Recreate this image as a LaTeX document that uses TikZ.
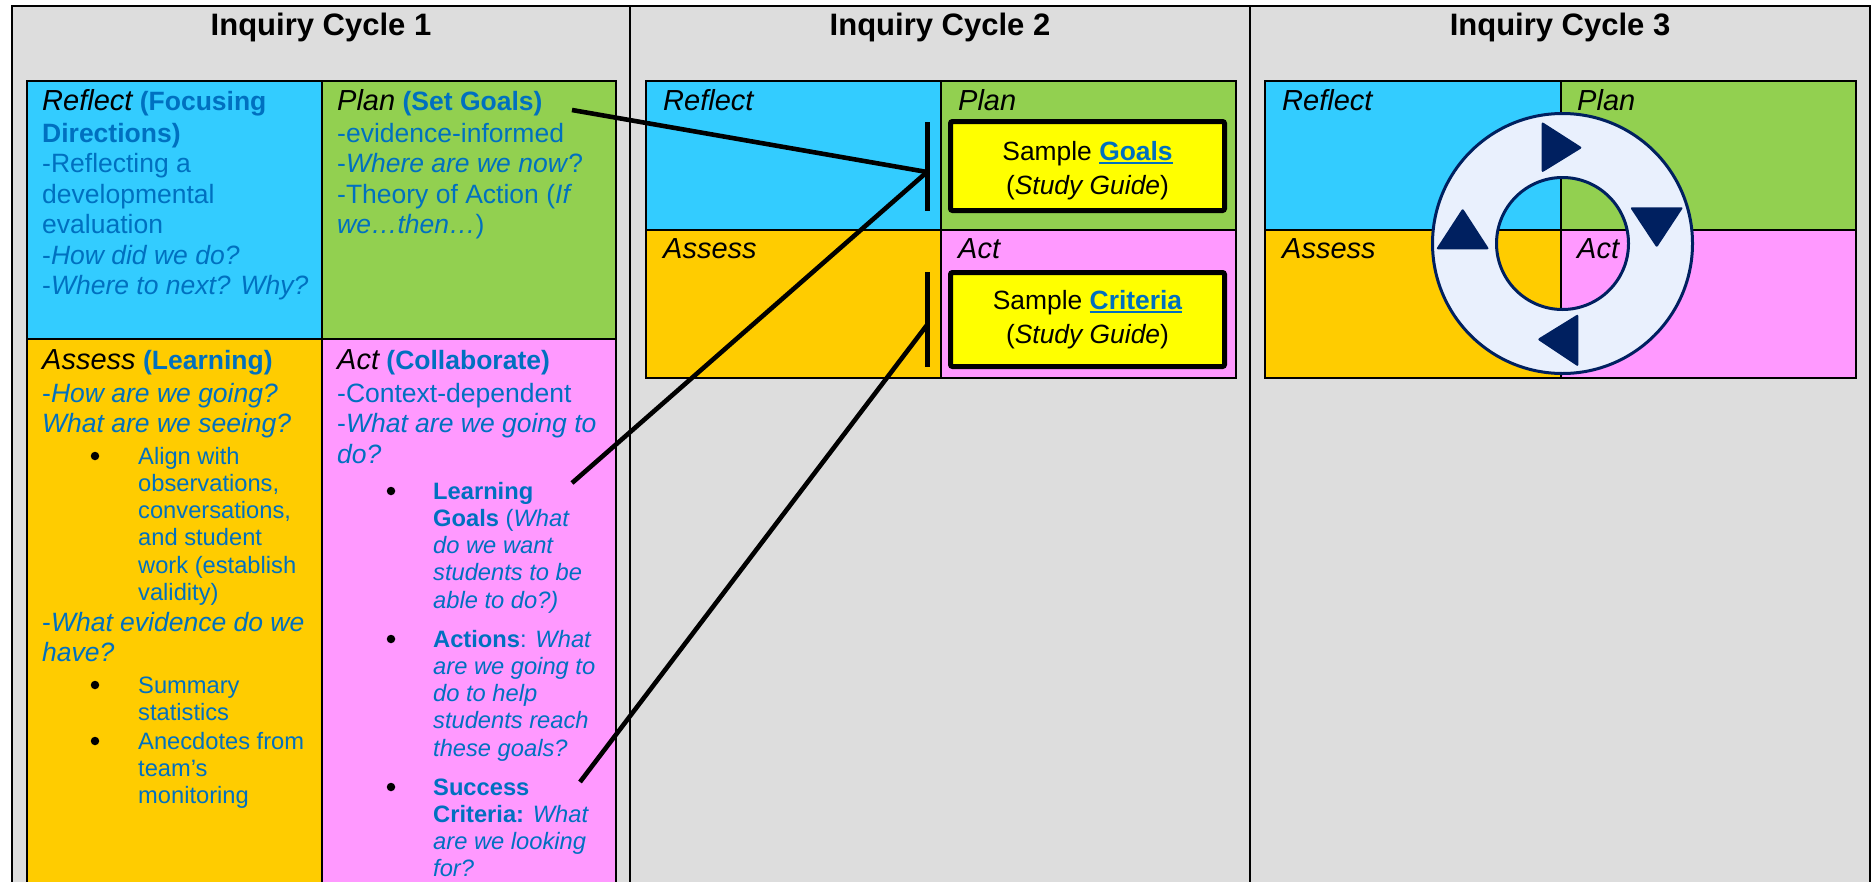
\documentclass[tikz,border=0pt]{standalone}
\usepackage{fontspec}
\setmainfont{Liberation Sans}
\definecolor{bgray}{RGB}{221,221,221}
\definecolor{rcyan}{RGB}{51,204,255}
\definecolor{pgreen}{RGB}{146,208,80}
\definecolor{aorange}{RGB}{255,204,0}
\definecolor{cpink}{RGB}{255,153,255}
\definecolor{tblue}{RGB}{0,112,192}
\definecolor{navy}{RGB}{0,32,96}
\definecolor{ringfill}{RGB}{233,240,253}
\definecolor{yfill}{RGB}{255,255,0}
\newcommand\hd[1]{{\fontsize{29}{30.5}\selectfont\itshape\color{black}#1}}
\newcommand\lnk[1]{\setbox0\hbox{\bfseries #1}\rlap{\color{tblue}\rule[-3.5pt]{\wd0}{2pt}}{\color{tblue}\bfseries #1}}
\tikzset{
 body/.style={anchor=base west, inner sep=0pt, text=tblue, font=\fontsize{26.5}{30.5}\selectfont},
 bull/.style={anchor=base west, inner sep=0pt, text=tblue, font=\fontsize{23.7}{27.3}\selectfont},
 dotb/.style={circle, fill=black, inner sep=0pt, minimum size=8.5pt},
 hdnode/.style={anchor=base west, inner sep=0pt, font=\fontsize{29}{30.5}\selectfont\itshape},
 title/.style={anchor=base, inner sep=0pt, font=\fontsize{31}{36}\selectfont\bfseries},
 grid/.style={draw=black, line width=2pt},
 conn/.style={line width=4.6pt, draw=black},
 barnode/.style={fill=black, inner sep=0pt, minimum width=5pt},
 yboxs/.style={draw=black, fill=yfill, line width=5pt, rounded corners=2pt, minimum width=274pt, inner sep=0pt},
 stxt/.style={anchor=base, inner sep=0pt, font=\fontsize{26.4}{34}\selectfont},
 tri/.style={fill=navy, rounded corners=2pt},
 ringline/.style={draw=navy, line width=3pt},
}
\begin{document}
\begin{tikzpicture}[x=1pt,y=-1pt]
\clip (0,0) rectangle (1871,881);
\fill[white] (0,0) rectangle (1871,881);
% outer table
\fill[bgray] (12,6) rectangle (1870,890);
\draw[line width=2pt] (12,890) -- (12,6) -- (1870,6) -- (1870,890);
\draw[line width=1.6pt] (630,6) -- (630,890);
\draw[line width=1.6pt] (1250,6) -- (1250,890);
% titles
\node[title] (t1) at (321,35) {Inquiry Cycle 1};
\node[title] (t2) at (940,35) {Inquiry Cycle 2};
\node[title] (t3) at (1560,35) {Inquiry Cycle 3};
% cycle 1 cells
\path[grid, fill=rcyan] (27,81) rectangle (322,339);
\path[grid, fill=pgreen] (322,81) rectangle (616,339);
\path[grid, fill=aorange] (27,339) rectangle (322,895);
\path[grid, fill=cpink] (322,339) rectangle (616,895);
% cycle 2 cells
\path[grid, fill=rcyan] (646,81) rectangle (941,230);
\path[grid, fill=pgreen] (941,81) rectangle (1236,230);
\path[grid, fill=aorange] (646,230) rectangle (941,378);
\path[grid, fill=cpink] (941,230) rectangle (1236,378);
% cycle 3 cells
\path[grid, fill=rcyan] (1265,81) rectangle (1561,230);
\path[grid, fill=pgreen] (1561,81) rectangle (1856,230);
\path[grid, fill=aorange] (1265,230) rectangle (1561,378);
\path[grid, fill=cpink] (1561,230) rectangle (1856,378);
% cycle 1 texts
\node[body] (r1t) at (42,110) {\begin{tabular}[t]{@{}l@{}}\hd{Reflect} \textbf{(Focusing}\\[1.5pt] \textbf{Directions)}\\ -Reflecting a\\ developmental\\ evaluation\\ -\textit{How did we do?}\\ -\textit{Where to next? Why?}\end{tabular}};
\node[body] (p1t) at (337,110) {\begin{tabular}[t]{@{}l@{}}\hd{Plan} \textbf{(Set Goals)}\\[1.5pt] -evidence-informed\\ -\textit{Where are we now}?\\ -Theory of Action (\textit{If}\\ \textit{we…then…})\end{tabular}};
\node[body] (a1t) at (42,369) {\begin{tabular}[t]{@{}l@{}}\hd{Assess} \textbf{(Learning)}\\[2.5pt] -\textit{How are we going?}\\ \textit{What are we seeing?}\end{tabular}};
\node[dotb] (d1) at (95,456) {};
\node[bull] (a1b1) at (138,464) {\begin{tabular}[t]{@{}l@{}}Align with\\ observations,\\ conversations,\\ and student\\ work (establish\\ validity)\end{tabular}};
\node[body] (a1m) at (42,631) {\begin{tabular}[t]{@{}l@{}}-\textit{What evidence do we}\\ \textit{have?}\end{tabular}};
\node[dotb] (d2) at (95,685) {};
\node[bull] (a1b2) at (138,693) {\begin{tabular}[t]{@{}l@{}}Summary\\ statistics\end{tabular}};
\node[dotb] (d3) at (95,741) {};
\node[bull] (a1b3) at (138,749) {\begin{tabular}[t]{@{}l@{}}Anecdotes from\\ team’s\\ monitoring\end{tabular}};
\node[body] (c1t) at (337,369) {\begin{tabular}[t]{@{}l@{}}\hd{Act} \textbf{(Collaborate)}\\[2.5pt] -Context-dependent\\ -\textit{What are we going to}\\ \textit{do?}\end{tabular}};
\node[dotb] (d4) at (391,491) {};
\node[bull] (c1b1) at (433,499) {\begin{tabular}[t]{@{}l@{}}\textbf{Learning}\\ \textbf{Goals} (\textit{What}\\ \textit{do we want}\\ \textit{students to be}\\ \textit{able to do?)}\end{tabular}};
\node[dotb] (d5) at (391,639) {};
\node[bull] (c1b2) at (433,647) {\begin{tabular}[t]{@{}l@{}}\textbf{Actions}: \textit{What}\\ \textit{are we going to}\\ \textit{do to help}\\ \textit{students reach}\\ \textit{these goals?}\end{tabular}};
\node[dotb] (d6) at (391,787) {};
\node[bull] (c1b3) at (433,795) {\begin{tabular}[t]{@{}l@{}}\textbf{Success}\\ \textbf{Criteria:} \textit{What}\\ \textit{are we looking}\\ \textit{for?}\end{tabular}};
% cycle 2 headings
\node[hdnode] (r2) at (663,110) {Reflect};
\node[hdnode] (p2) at (958,110) {Plan};
\node[hdnode] (a2) at (663,258) {Assess};
\node[hdnode] (c2) at (958,258) {Act};
% sample boxes
\node[yboxs, minimum height=89pt] (goals) at (1087.5,166) {};
\node[stxt] (goalsT) at (1087.5,160) {\begin{tabular}[t]{@{}c@{}}Sample \lnk{Goals}\\ (\textit{Study Guide})\end{tabular}};
\node[yboxs, minimum height=94pt] (crit) at (1087.5,319.5) {};
\node[stxt] (critT) at (1087.5,309) {\begin{tabular}[t]{@{}c@{}}Sample \lnk{Criteria}\\ (\textit{Study Guide})\end{tabular}};
% ring in cycle 3
\coordinate (rc) at (1562.5,243.5);
\fill[ringfill, even odd rule] (rc) circle[radius=130pt] (rc) circle[radius=66pt];
\draw[ringline] (rc) circle[radius=130pt];
\draw[ringline] (rc) circle[radius=66pt];
\fill[tri] (1541.7,121.7) -- (1582.3,147.7) -- (1541.7,172.7) -- cycle;
\fill[tri] (1630,207.3) -- (1683.3,207.3) -- (1656.7,247.7) -- cycle;
\fill[tri] (1578.3,314) -- (1578.3,366.7) -- (1537.3,339.3) -- cycle;
\fill[tri] (1436,249.3) -- (1489.3,249.3) -- (1462.7,208.3) -- cycle;
% cycle 3 headings
\node[hdnode] (r3) at (1282,110) {Reflect};
\node[hdnode] (p3) at (1577,110) {Plan};
\node[hdnode] (a3) at (1282,258) {Assess};
\node[hdnode] (c3) at (1577,258) {Act};
% connectors
\coordinate (s1) at (572,110);
\coordinate (s2) at (572,483);
\coordinate (s3) at (580,782);
\coordinate (j1) at (927,172);
\coordinate (j2) at (927,325);
\draw[conn] (s1) -- (j1);
\draw[conn] (s2) -- (j1);
\draw[conn] (s3) -- (j2);
\node[barnode, minimum height=89pt] (bar1) at (927,166.5) {};
\node[barnode, minimum height=95pt] (bar2) at (927,319.5) {};
\end{tikzpicture}
\end{document}
